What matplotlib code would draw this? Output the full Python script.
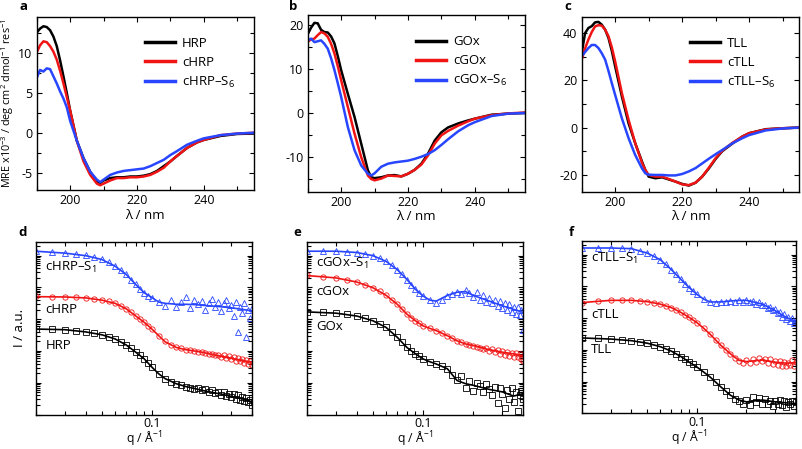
import numpy as np
import matplotlib
matplotlib.use('Agg')
import matplotlib.pyplot as plt
from matplotlib.ticker import MultipleLocator, LogLocator, NullFormatter, FixedLocator, FixedFormatter

plt.rcParams['font.family'] = ['Open Sans', 'DejaVu Sans']
plt.rcParams['mathtext.fontset'] = 'custom'
plt.rcParams['mathtext.rm'] = 'Open Sans'
plt.rcParams['mathtext.it'] = 'Open Sans:italic'
plt.rcParams['mathtext.bf'] = 'Open Sans:bold'
plt.rcParams['axes.unicode_minus'] = False

BLACK = '#000000'
RED = '#f01414'
BLUE = '#2846ff'

# ---- CD spectra (MRE x10^-3) ----
wl = [190, 191, 192, 193, 194, 195, 196, 197, 198, 199, 200, 202, 204, 206, 208, 209, 210,
      212, 214, 216, 218, 220, 222, 224, 226, 228, 230, 232, 235, 238, 240, 245, 250, 255]

hrp = [12.6, 13.1, 13.4, 13.3, 12.9, 12.1, 10.9, 9.1, 7.1, 5.0, 2.8, -1.0, -3.2, -4.9, -6.1, -6.3, -6.0,
       -5.7, -5.6, -5.6, -5.5, -5.5, -5.4, -5.2, -4.8, -4.2, -3.6, -2.9, -1.9, -1.2, -0.9, -0.4, -0.15, -0.1]
chrp = [10.1, 11.0, 11.5, 11.4, 10.9, 10.2, 9.2, 7.8, 6.2, 4.5, 2.8, -1.0, -3.6, -5.3, -6.4, -6.6, -6.4,
        -6.0, -5.7, -5.7, -5.6, -5.6, -5.5, -5.3, -4.9, -4.4, -3.6, -2.9, -1.9, -1.2, -0.9, -0.3, -0.1, 0.0]
chrp_s6 = [6.9, 7.9, 7.7, 8.1, 8.0, 7.1, 6.2, 5.2, 4.3, 3.2, 1.5, -1.0, -3.2, -4.9, -5.9, -6.2, -5.9,
           -5.3, -5.0, -4.8, -4.7, -4.6, -4.5, -4.2, -3.8, -3.4, -2.8, -2.3, -1.5, -1.0, -0.7, -0.3, -0.1, 0.0]

gox = [18.0, 19.5, 20.6, 20.5, 19.0, 18.5, 18.4, 17.5, 15.9, 13.0, 9.8, 4.4, -0.9, -7.0, -13.1, -14.7, -14.9,
       -14.7, -14.3, -14.2, -14.5, -13.9, -13.0, -11.6, -9.3, -6.3, -4.4, -3.3, -2.4, -1.7, -1.3, -0.4, -0.15, 0.0]
cgox = [16.3, 16.8, 17.0, 17.8, 18.5, 18.2, 17.4, 15.8, 13.6, 10.7, 7.5, 1.4, -4.7, -10.1, -14.3, -15.1, -15.4,
        -15.0, -14.3, -14.4, -14.5, -13.9, -13.0, -11.8, -9.7, -7.0, -5.1, -4.1, -2.9, -1.9, -1.3, -0.5, -0.1, 0.1]
cgox_s6 = [16.6, 17.0, 16.2, 16.4, 16.6, 15.8, 14.7, 12.5, 9.8, 6.8, 3.7, -3.2, -8.5, -12.0, -13.9, -14.3, -13.8,
           -12.3, -11.6, -11.3, -11.1, -10.9, -10.5, -10.0, -9.4, -8.5, -7.3, -6.0, -4.2, -2.8, -2.1, -0.7, -0.15, 0.0]

tll = [31.6, 40.0, 42.2, 43.0, 44.6, 44.8, 43.6, 41.5, 38.0, 32.5, 25.9, 13.2, 1.8, -6.7, -14.4, -18.0, -20.8,
       -21.5, -21.1, -22.0, -22.9, -23.9, -24.6, -23.4, -20.8, -17.3, -13.3, -10.0, -6.8, -3.8, -2.4, -0.7, -0.3, 0.0]
ctll = [28.8, 33.5, 37.3, 40.5, 42.9, 43.4, 43.2, 41.5, 38.7, 34.0, 28.0, 14.6, 3.3, -6.7, -14.9, -18.0, -20.1,
        -20.8, -20.8, -21.8, -22.9, -24.1, -24.4, -23.4, -20.8, -17.0, -13.0, -9.8, -6.5, -3.8, -2.4, -0.8, -0.3, 0.0]
ctll_s6 = [30.2, 32.0, 33.7, 35.0, 35.0, 33.7, 31.5, 28.8, 24.0, 18.8, 13.8, 3.9, -4.5, -11.7, -17.3, -19.4, -20.0,
           -20.1, -20.1, -20.3, -20.3, -19.7, -18.6, -17.2, -15.2, -13.2, -11.3, -9.5, -6.7, -4.5, -3.2, -1.2, -0.4, 0.0]

# ---- SAXS (log10 of intensity, arbitrary offsets) ----
q = [0.020, 0.025, 0.030, 0.035, 0.040, 0.045, 0.050, 0.055, 0.060, 0.065, 0.070, 0.075, 0.080, 0.085,
     0.090, 0.095, 0.10, 0.11, 0.12, 0.13, 0.14, 0.15, 0.16, 0.17, 0.18, 0.19, 0.20, 0.21, 0.22, 0.23,
     0.24, 0.25, 0.26, 0.27, 0.28, 0.29, 0.30, 0.31, 0.32, 0.33, 0.34, 0.35, 0.36, 0.37, 0.38, 0.39, 0.40]
q_fit = [0.02, 0.03, 0.04, 0.05, 0.06, 0.07, 0.08, 0.09, 0.10, 0.11, 0.12, 0.14, 0.16, 0.18, 0.20, 0.25, 0.30, 0.35, 0.40]

hrp_saxs = [2.70, 2.69, 2.67, 2.64, 2.60, 2.56, 2.51, 2.45, 2.38, 2.29, 2.19, 2.08, 1.96, 1.86, 1.75, 1.62,
            1.49, 1.29, 1.13, 1.03, 0.97, 0.93, 0.88, 0.85, 0.80, 0.84, 0.76, 0.80, 0.72, 0.78, 0.68, 0.70,
            0.62, 0.70, 0.58, 0.66, 0.55, 0.63, 0.50, 0.60, 0.46, 0.55, 0.42, 0.52, 0.38, 0.45, 0.30]
chrp_saxs = [3.72, 3.71, 3.70, 3.69, 3.67, 3.64, 3.60, 3.56, 3.50, 3.42, 3.33, 3.22, 3.10, 3.00, 2.90, 2.80,
             2.69, 2.48, 2.30, 2.19, 2.12, 2.08, 2.04, 2.02, 2.00, 1.97, 1.96, 1.95, 1.92, 1.90, 1.86, 1.87,
             1.82, 1.86, 1.78, 1.83, 1.75, 1.80, 1.70, 1.78, 1.68, 1.74, 1.62, 1.72, 1.60, 1.70, 1.55]
chrp_s1_saxs = [5.15, 5.12, 5.09, 5.05, 5.01, 4.95, 4.89, 4.79, 4.68, 4.55, 4.42, 4.25, 4.10, 3.95, 3.82, 3.74,
                3.66, 3.55, 3.42, 3.60, 3.38, 3.55, 3.70, 3.35, 3.62, 3.48, 3.58, 3.30, 3.52, 3.65, 3.40, 3.55,
                3.25, 3.50, 3.62, 3.35, 3.45, 3.10, 3.55, 2.60, 3.40, 3.20, 3.50, 2.45, 3.30, 3.05, 3.35]
hrp_fit = [2.69, 2.67, 2.60, 2.51, 2.38, 2.19, 1.96, 1.75, 1.49, 1.28, 1.13, 0.97, 0.88, 0.82, 0.76, 0.66, 0.57, 0.49, 0.40]
chrp_fit = [3.71, 3.70, 3.67, 3.60, 3.50, 3.33, 3.10, 2.90, 2.69, 2.48, 2.29, 2.11, 2.04, 2.00, 1.96, 1.85, 1.77, 1.70, 1.65]
chrp_s1_fit = [5.14, 5.08, 5.00, 4.88, 4.67, 4.41, 4.09, 3.83, 3.68, 3.54, 3.50, 3.47, 3.47, 3.46, 3.44, 3.40, 3.36, 3.31, 3.26]

gox_saxs = [3.24, 3.22, 3.19, 3.15, 3.10, 3.03, 2.95, 2.85, 2.74, 2.59, 2.43, 2.27, 2.11, 2.00, 1.91, 1.83,
            1.75, 1.66, 1.59, 1.52, 1.44, 1.25, 1.10, 1.20, 0.85, 1.05, 0.75, 1.00, 0.90, 0.70, 0.95, 0.80,
            0.60, 0.88, 0.35, 0.82, 0.65, 0.20, 0.78, 0.50, 0.85, 0.40, 0.70, 0.10, 0.62, 0.75, 0.50]
cgox_saxs = [4.38, 4.34, 4.30, 4.24, 4.17, 4.09, 3.99, 3.88, 3.75, 3.61, 3.47, 3.31, 3.16, 3.05, 2.95, 2.87,
             2.79, 2.71, 2.64, 2.56, 2.48, 2.40, 2.32, 2.28, 2.22, 2.20, 2.15, 2.12, 2.10, 2.06, 2.08, 2.00,
             2.05, 1.96, 2.02, 1.92, 1.99, 1.88, 1.98, 1.85, 1.95, 1.82, 1.93, 1.80, 1.90, 1.75, 1.70]
cgox_s1_saxs = [5.15, 5.14, 5.14, 5.12, 5.10, 5.06, 5.00, 4.92, 4.82, 4.70, 4.56, 4.41, 4.25, 4.09, 3.94, 3.82,
                3.73, 3.62, 3.50, 3.62, 3.72, 3.78, 3.85, 3.80, 3.92, 3.82, 3.70, 3.85, 3.62, 3.75, 3.55, 3.68,
                3.50, 3.62, 3.42, 3.58, 3.35, 3.52, 3.30, 3.48, 3.22, 3.40, 3.15, 3.38, 3.12, 3.30, 2.65]
gox_fit = [3.23, 3.19, 3.10, 2.95, 2.74, 2.43, 2.11, 1.91, 1.75, 1.66, 1.59, 1.44, 1.07, 0.97, 0.92, 0.79, 0.71, 0.58, 0.66]
cgox_fit = [4.375, 4.30, 4.17, 3.99, 3.75, 3.47, 3.16, 2.95, 2.79, 2.71, 2.64, 2.48, 2.32, 2.22, 2.17, 2.04, 1.96, 1.91, 1.85]
cgox_s1_fit = [5.14, 5.14, 5.10, 5.00, 4.82, 4.56, 4.25, 3.94, 3.73, 3.60, 3.57, 3.75, 3.85, 3.87, 3.75, 3.57, 3.42, 3.31, 3.21]

tll_saxs = [2.38, 2.36, 2.34, 2.32, 2.29, 2.26, 2.21, 2.16, 2.10, 2.03, 1.96, 1.88, 1.79, 1.70, 1.61, 1.54,
            1.46, 1.30, 1.15, 0.99, 0.83, 0.70, 0.57, 0.45, 0.38, 0.30, 0.42, 0.25, 0.50, 0.35, 0.48, 0.30,
            0.45, 0.28, 0.40, 0.22, 0.38, 0.30, 0.42, 0.25, 0.38, 0.20, 0.35, 0.30, 0.40, 0.22, 0.35]
ctll_saxs = [3.49, 3.54, 3.56, 3.57, 3.56, 3.55, 3.52, 3.48, 3.44, 3.39, 3.33, 3.26, 3.18, 3.10, 3.02, 2.94,
             2.86, 2.68, 2.50, 2.32, 2.14, 2.00, 1.88, 1.75, 1.65, 1.60, 1.68, 1.58, 1.72, 1.62, 1.75, 1.66,
             1.72, 1.60, 1.70, 1.55, 1.65, 1.52, 1.66, 1.50, 1.62, 1.48, 1.60, 1.52, 1.68, 1.50, 1.62]
ctll_s1_saxs = [5.22, 5.22, 5.21, 5.20, 5.19, 5.13, 5.05, 4.96, 4.84, 4.70, 4.53, 4.38, 4.22, 4.09, 3.96, 3.85,
                3.75, 3.60, 3.51, 3.49, 3.51, 3.52, 3.54, 3.50, 3.58, 3.52, 3.56, 3.50, 3.55, 3.45, 3.50, 3.40,
                3.42, 3.32, 3.35, 3.25, 3.28, 3.15, 3.20, 3.05, 3.12, 2.98, 3.05, 2.92, 3.00, 2.85, 2.92]
tll_fit = [2.375, 2.34, 2.29, 2.21, 2.10, 1.96, 1.79, 1.61, 1.46, 1.30, 1.15, 0.83, 0.57, 0.42, 0.36, 0.42, 0.36, 0.33, 0.31]
ctll_fit = [3.49, 3.56, 3.56, 3.52, 3.44, 3.33, 3.18, 3.02, 2.86, 2.68, 2.50, 2.14, 1.875, 1.67, 1.63, 1.68, 1.61, 1.58, 1.60]
ctll_s1_fit = [5.21, 5.21, 5.19, 5.05, 4.84, 4.53, 4.22, 3.96, 3.75, 3.60, 3.51, 3.51, 3.54, 3.56, 3.56, 3.44, 3.23, 3.02, 2.90]

W, H = 802, 449
fig = plt.figure(figsize=(W / 100, H / 100), dpi=100)


def px_axes(l, t, r, b):
    # axes placed by pixel box (left, top, right, bottom)
    return fig.add_axes([l / W, 1 - b / H, (r - l) / W, (b - t) / H])


def style_box(ax):
    for s in ax.spines.values():
        s.set_linewidth(1.0)
    ax.tick_params(which='both', direction='in', top=True, right=True, labelsize=9, width=0.8, pad=3)
    ax.tick_params(which='major', length=3.5)
    ax.tick_params(which='minor', length=3.0)


def cd_panel(ax, curves, names, ylim, ymaj, ymin):
    for y, c, n in zip(curves, [BLACK, RED, BLUE], names):
        ax.plot(wl, y, color=c, lw=1.8, label=n)
    ax.set_xlim(190, 255)
    ax.set_ylim(*ylim)
    ax.xaxis.set_major_locator(MultipleLocator(20))
    ax.xaxis.set_minor_locator(MultipleLocator(10))
    ax.yaxis.set_major_locator(MultipleLocator(ymaj))
    ax.yaxis.set_minor_locator(MultipleLocator(ymin))
    style_box(ax)
    ax.set_xlabel('λ / nm', fontsize=9.5, labelpad=1)
    leg = ax.legend(frameon=False, fontsize=9.5, loc='upper left', bbox_to_anchor=(0.474, 0.915),
                    handlelength=2.3, handletextpad=0.5, labelspacing=0.45, borderaxespad=0)
    for h in leg.get_lines():
        h.set_linewidth(2.5)


def saxs_panel(ax, data, fits, labels, label_y):
    marks = ['s', 'o', '^']
    cols = [BLACK, RED, BLUE]
    for d, f, m, c in zip(data, fits, marks, cols):
        ax.plot(q, 10 ** np.array(d), ls='none', marker=m, mfc='none', mec=c, ms=3.8, mew=0.6)
        ax.plot(q_fit, 10 ** np.array(f), color=c, lw=1.2)
    ax.set_xscale('log')
    ax.set_yscale('log')
    ax.set_xlim(0.02, 0.4)
    ax.set_ylim(1, 10 ** 5.44)
    ax.xaxis.set_major_locator(FixedLocator([0.1]))
    ax.xaxis.set_major_formatter(FixedFormatter(['0.1']))
    ax.xaxis.set_minor_locator(LogLocator(base=10, subs=np.arange(2, 10), numticks=20))
    ax.xaxis.set_minor_formatter(NullFormatter())
    ax.yaxis.set_major_locator(LogLocator(base=10, numticks=20))
    ax.yaxis.set_minor_locator(LogLocator(base=10, subs=np.arange(2, 10), numticks=20))
    ax.yaxis.set_major_formatter(NullFormatter())
    ax.yaxis.set_minor_formatter(NullFormatter())
    style_box(ax)
    ax.tick_params(axis='x', which='major', pad=2)
    ax.set_xlabel('q / Å$^{-1}$', fontsize=8.8, labelpad=-0.5)
    for t, yy in zip(labels, label_y):
        ax.text(0.045, yy, t, transform=ax.transAxes, fontsize=9.5, va='center', ha='left')


ax_a = px_axes(36.7, 16.7, 254, 190)
cd_panel(ax_a, [hrp, chrp, chrp_s6], ['HRP', 'cHRP', 'cHRP–S$_6$'], (-7.2, 14.6), 5, 2.5)
ax_a.set_ylabel('MRE x10$^{-3}$ / deg cm$^{2}$ dmol$^{-1}$ res$^{-1}$', fontsize=7.8, labelpad=2)

ax_b = px_axes(307.7, 15, 525, 191.7)
cd_panel(ax_b, [gox, cgox, cgox_s6], ['GOx', 'cGOx', 'cGOx–S$_6$'], (-18, 22.4), 10, 5)

ax_c = px_axes(581.7, 16.7, 799.3, 191.7)
cd_panel(ax_c, [tll, ctll, ctll_s6], ['TLL', 'cTLL', 'cTLL–S$_6$'], (-27.2, 47), 20, 10)

ax_d = px_axes(35.7, 241.7, 252, 414.5)
saxs_panel(ax_d, [hrp_saxs, chrp_saxs, chrp_s1_saxs], [hrp_fit, chrp_fit, chrp_s1_fit],
           ['cHRP–S$_1$', 'cHRP', 'HRP'], [0.85, 0.605, 0.40])
ax_d.set_ylabel('I / a.u.', fontsize=9.5, labelpad=4)

ax_e = px_axes(306.7, 241.7, 523.3, 414.5)
saxs_panel(ax_e, [gox_saxs, cgox_saxs, cgox_s1_saxs], [gox_fit, cgox_fit, cgox_s1_fit],
           ['cGOx–S$_1$', 'cGOx', 'GOx'], [0.875, 0.712, 0.51])

ax_f = px_axes(581.7, 240.7, 796, 413.3)
saxs_panel(ax_f, [tll_saxs, ctll_saxs, ctll_s1_saxs], [tll_fit, ctll_fit, ctll_s1_fit],
           ['cTLL–S$_1$', 'cTLL', 'TLL'], [0.895, 0.575, 0.37])

# panel letters
for letter, x, y in [('a', 23, 6), ('b', 293, 6), ('c', 568, 6),
                     ('d', 23, 232), ('e', 297, 232), ('f', 571, 233)]:
    fig.text(x / W, 1 - y / H, letter, fontsize=9.5, fontweight='bold', va='center', ha='center')

fig.savefig('out.png', dpi=100)
